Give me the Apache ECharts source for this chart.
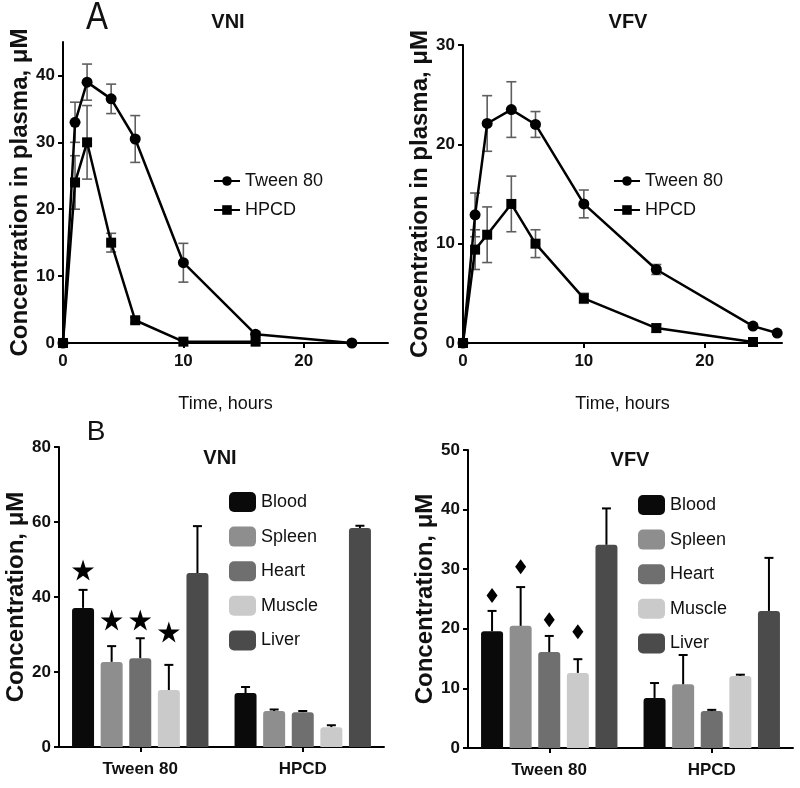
<!DOCTYPE html>
<html>
<head>
<meta charset="utf-8">
<script src="https://cdn.jsdelivr.net/npm/echarts@6/dist/echarts.min.js"></script>
<style>
html,body{margin:0;padding:0;background:#fff;}
#main{width:800px;height:788px;}
</style>
</head>
<body>
<div id="main"></div>
<script>
// A: plasma concentration over time
var vniTweenTime = [0, 1, 2, 4, 6, 10, 16, 24];
var vniTweenMean = [0, 33, 39, 36.5, 30.5, 12, 1.3, 0];
var vniTweenErr  = [0, 3, 2.7, 2.2, 3.5, 2.9, 0.4, 0];
var vniHpcdTime  = [0, 1, 2, 4, 6, 10, 16];
var vniHpcdMean  = [0, 24, 30, 15, 3.4, 0.2, 0.2];
var vniHpcdErr   = [0, 4, 5.5, 1.4, 0.4, 0.2, 0.2];

var vfvTweenTime = [0, 1, 2, 4, 6, 10, 16, 24, 26];
var vfvTweenMean = [0, 12.9, 22.1, 23.5, 22, 14, 7.4, 1.7, 1.0];
var vfvTweenErr  = [0, 2.2, 2.8, 2.8, 1.3, 1.4, 0.5, 0.2, 0.1];
var vfvHpcdTime  = [0, 1, 2, 4, 6, 10, 16, 24];
var vfvHpcdMean  = [0, 9.4, 10.9, 14, 10, 4.5, 1.5, 0.1];
var vfvHpcdErr   = [0, 2, 2.8, 2.8, 1.4, 0.5, 0.4, 0];

// B: tissue concentration
var groups = ['Tween 80', 'HPCD'];
var organs = ['Blood', 'Spleen', 'Heart', 'Muscle', 'Liver'];
var vniTween    = [37.1, 22.7, 23.7, 15.2, 46.4];
var vniTweenSd  = [4.8, 4.2, 5.3, 6.7, 12.5];
var vniHpcd     = [14.4, 9.6, 9.3, 5.3, 58.4];
var vniHpcdSd   = [1.6, 0.4, 0.3, 0.5, 0.6];
var vniStars    = [47.2, 33.9, 33.9, 30.7];
var vfvTween    = [19.6, 20.5, 16.1, 12.6, 34.1];
var vfvTweenSd  = [3.4, 6.5, 2.7, 2.3, 6.1];
var vfvHpcd     = [8.4, 10.7, 6.2, 12.1, 23];
var vfvHpcdSd   = [2.5, 4.9, 0.2, 0.2, 8.9];
var vfvDiamonds = [25.6, 30.4, 21.5, 19.5];

var organColors = ['#0a0a0a', '#8e8e8e', '#6f6f6f', '#cacaca', '#4b4b4b'];
var FONT = '"Liberation Sans", Arial, sans-serif';
var BAR_W = 22, BAR_GAP = 0.3;
var BAR_STEP = BAR_W * (1 + BAR_GAP);
var STAR = 'path://M50,0 L61,35 L98,35 L68,57 L79,91 L50,70 L21,91 L32,57 L2,35 L39,35 Z';

var chart = echarts.init(document.getElementById('main'));

function zip3(a, b, c){
	var out = [];
	for(var i=0; i<a.length; i++){ out.push([a[i], b[i], c[i]]); }
	return out;
}

//误差线 (折线图, 上下两端)
function lineErrItem(params, api){
	var x = api.value(0), m = api.value(1), e = api.value(2);
	if(!e) return null;
	var top = api.coord([x, m + e]), bot = api.coord([x, m - e]);
	var hw = 5, st = {stroke:'#5e5e5e', lineWidth:1.6};
	return {type:'group', children:[
		{type:'line', shape:{x1:top[0], y1:top[1], x2:bot[0], y2:bot[1]}, style:st},
		{type:'line', shape:{x1:top[0]-hw, y1:top[1], x2:top[0]+hw, y2:top[1]}, style:st},
		{type:'line', shape:{x1:bot[0]-hw, y1:bot[1], x2:bot[0]+hw, y2:bot[1]}, style:st}
	]};
}

//误差线 (柱状图, 只画上端)
function barErrItem(params, api){
	var cat = api.value(0), k = api.value(1), m = api.value(2), e = api.value(3);
	var p0 = api.coord([cat, m]), p1 = api.coord([cat, m + e]);
	var x = p0[0] + (k - 2) * BAR_STEP;
	var hw = 4.5, st = {stroke:'#000', lineWidth:2};
	return {type:'group', children:[
		{type:'line', shape:{x1:x, y1:p0[1], x2:x, y2:p1[1]}, style:st},
		{type:'line', shape:{x1:x-hw, y1:p1[1], x2:x+hw, y2:p1[1]}, style:st}
	]};
}

function barErrData(tw, twSd, hp, hpSd){
	var out = [];
	for(var i=0; i<organs.length; i++){
		out.push([0, i, tw[i], twSd[i]]);
		out.push([1, i, hp[i], hpSd[i]]);
	}
	return out;
}

function markData(vals){
	var out = [];
	for(var i=0; i<vals.length; i++){
		out.push({value:[0, vals[i]], symbolOffset:[(i - 2) * BAR_STEP, 0]});
	}
	return out;
}

var axisLineStyle = {show:true, lineStyle:{color:'#000', width:2}};
var tickStyle = {show:true, inside:false, length:5, lineStyle:{color:'#000', width:2}};
var tickLabel = {color:'#111', fontWeight:'bold', fontSize:17, fontFamily:FONT};

function timeAxis(grid, max){
	return {
		type:'value', gridIndex:grid, min:0, max:max, interval:10,
		axisLine:axisLineStyle,
		axisTick:Object.assign({}, tickStyle, {customValues:[0, 10, 20]}),
		axisLabel:Object.assign({}, tickLabel, {margin:10, customValues:[0, 10, 20]}),
		splitLine:{show:false},
		name:'Time, hours', nameLocation:'middle', nameGap:52,
		nameTextStyle:{color:'#111', fontSize:18, fontFamily:FONT}
	};
}

function concAxis(grid, max, ticks, name, gap){
	return {
		type:'value', gridIndex:grid, min:0, max:max, interval:10,
		axisLine:axisLineStyle,
		axisTick:Object.assign({}, tickStyle, {customValues:ticks}),
		axisLabel:Object.assign({}, tickLabel, {margin:8, customValues:ticks}),
		splitLine:{show:false},
		name:name, nameLocation:'middle', nameGap:gap,
		nameTextStyle:{color:'#111', fontSize:24, fontWeight:'bold', fontFamily:FONT}
	};
}

function groupAxis(grid){
	return {
		type:'category', gridIndex:grid, data:groups,
		axisLine:axisLineStyle,
		axisTick:Object.assign({}, tickStyle, {alignWithLabel:true}),
		axisLabel:Object.assign({}, tickLabel, {fontSize:17, margin:14})
	};
}

function lineSeries(name, sym, size, grid, t, m){
	var d = [];
	for(var i=0; i<t.length; i++){ d.push([t[i], m[i]]); }
	return {
		name:name, type:'line', xAxisIndex:grid, yAxisIndex:grid, data:d,
		symbol:sym, symbolSize:size, z:3,
		lineStyle:{color:'#000', width:2.5}, itemStyle:{color:'#000'}
	};
}

function errSeries(grid, t, m, e){
	return {
		type:'custom', xAxisIndex:grid, yAxisIndex:grid, z:2,
		renderItem:lineErrItem, data:zip3(t, m, e), silent:true
	};
}

var series = [
	errSeries(0, vniTweenTime, vniTweenMean, vniTweenErr),
	errSeries(0, vniHpcdTime, vniHpcdMean, vniHpcdErr),
	lineSeries('Tween 80', 'circle', 11, 0, vniTweenTime, vniTweenMean),
	lineSeries('HPCD', 'rect', 10, 0, vniHpcdTime, vniHpcdMean),
	errSeries(1, vfvTweenTime, vfvTweenMean, vfvTweenErr),
	errSeries(1, vfvHpcdTime, vfvHpcdMean, vfvHpcdErr),
	lineSeries('Tween 80', 'circle', 11, 1, vfvTweenTime, vfvTweenMean),
	lineSeries('HPCD', 'rect', 10, 1, vfvHpcdTime, vfvHpcdMean)
];

var barSets = [
	{grid:2, tw:vniTween, twSd:vniTweenSd, hp:vniHpcd, hpSd:vniHpcdSd, marks:vniStars, sym:STAR, symSize:[22, 21]},
	{grid:3, tw:vfvTween, twSd:vfvTweenSd, hp:vfvHpcd, hpSd:vfvHpcdSd, marks:vfvDiamonds, sym:'diamond', symSize:[11, 15]}
];
barSets.forEach(function(s){
	for(var i=0; i<organs.length; i++){
		series.push({
			name:organs[i], type:'bar', xAxisIndex:s.grid, yAxisIndex:s.grid,
			data:[s.tw[i], s.hp[i]], barWidth:BAR_W, barGap:(BAR_GAP*100)+'%',
			itemStyle:{color:organColors[i], borderRadius:[3, 3, 0, 0]}, z:2
		});
	}
	series.push({
		type:'custom', xAxisIndex:s.grid, yAxisIndex:s.grid, z:3, silent:true,
		renderItem:barErrItem, data:barErrData(s.tw, s.twSd, s.hp, s.hpSd)
	});
	series.push({
		type:'scatter', xAxisIndex:s.grid, yAxisIndex:s.grid, z:4, silent:true,
		symbol:s.sym, symbolSize:s.symSize, itemStyle:{color:'#000', opacity:1},
		data:markData(s.marks)
	});
});

function titleText(text, x, y, size, weight, sy){
	return {type:'text', x:x, y:y, scaleY:sy, style:{
		text:text, fill:'#111', fontSize:size, fontWeight:weight, fontFamily:FONT,
		textAlign:'center', textVerticalAlign:'middle'
	}};
}

var lineLegend = function(left){
	return {
		left:left, top:167, orient:'vertical', data:['Tween 80', 'HPCD'],
		itemWidth:26, itemHeight:12, itemGap:11,
		textStyle:{color:'#111', fontSize:18, fontFamily:FONT}
	};
};
var barLegend = function(left, top){
	return {
		left:left, top:top, orient:'vertical', data:organs, icon:'roundRect',
		itemWidth:27, itemHeight:20, itemGap:14.6,
		textStyle:{color:'#111', fontSize:18, fontFamily:FONT}
	};
};

var option = {
	backgroundColor:'#fff',
	animation:false,
	textStyle:{fontFamily:FONT},
	grid:[
		{left:63, top:42, width:325, height:301},
		{left:463, top:45, width:319, height:298},
		{left:59, top:447, width:325, height:300},
		{left:468, top:450, width:325, height:298}
	],
	xAxis:[
		timeAxis(0, 27),
		timeAxis(1, 26.4),
		groupAxis(2),
		groupAxis(3)
	],
	yAxis:[
		concAxis(0, 45, [0, 10, 20, 30, 40], 'Concentration in plasma, \u03bcM', 30),
		concAxis(1, 30, [0, 10, 20, 30], 'Concentration in plasma, \u03bcM', 29),
		Object.assign(concAxis(2, 80, [0, 20, 40, 60, 80], 'Concentration, \u03bcM', 27), {interval:20}),
		concAxis(3, 50, [0, 10, 20, 30, 40, 50], 'Concentration, \u03bcM', 28)
	],
	legend:[
		lineLegend(208),
		lineLegend(608),
		barLegend(224, 487),
		barLegend(633, 490)
	],
	graphic:[
		titleText('A', 97, 18, 33, 'normal', 1.2),
		titleText('VNI', 228, 22, 20, 'bold', 1),
		titleText('VFV', 628, 22, 20, 'bold', 1),
		titleText('B', 96, 432, 28, 'normal', 1),
		titleText('VNI', 220, 458, 20, 'bold', 1),
		titleText('VFV', 630, 460, 20, 'bold', 1)
	],
	series:series
};

chart.setOption(option);
</script>
</body>
</html>
